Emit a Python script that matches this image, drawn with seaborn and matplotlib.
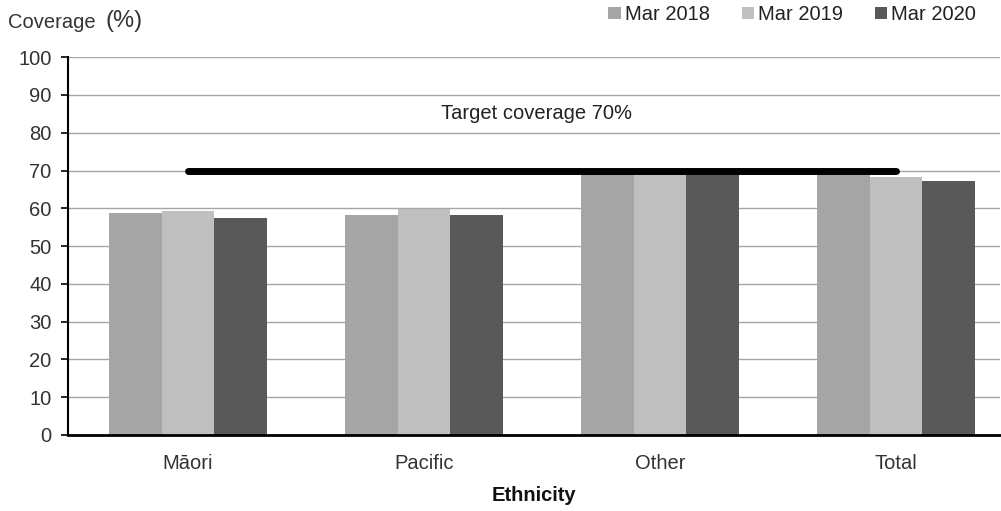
import pandas as pd
import seaborn as sns
import matplotlib.pyplot as plt

ethnicity = ['Māori', 'Pacific', 'Other', 'Total']
periods = ['Mar 2018', 'Mar 2019', 'Mar 2020']
mar_2018 = [58.8, 58.1, 70.2, 68.8]
mar_2019 = [59.2, 59.8, 70.2, 68.3]
mar_2020 = [57.5, 58.2, 70.2, 67.3]
target = 70

df = pd.DataFrame({
    'Ethnicity': ethnicity * 3,
    'Period': [p for p in periods for _ in ethnicity],
    'Coverage': mar_2018 + mar_2019 + mar_2020,
})

sns.set_style('white')
plt.rcParams['font.family'] = ['Liberation Sans', 'DejaVu Sans']

fig = plt.figure(figsize=(10.01, 5.11), dpi=100)
ax = fig.add_axes([0.068, 0.149, 0.931, 0.739])

palette = ['#A5A5A5', '#BFBFBF', '#595959']
sns.barplot(data=df, x='Ethnicity', y='Coverage', hue='Period', order=ethnicity,
            hue_order=periods, palette=palette, width=0.67, saturation=1,
            linewidth=0, ax=ax, zorder=2)

ax.set_ylim(0, 100)
ax.set_xlim(-0.508, 3.44)
ax.set_yticks(range(0, 101, 10))
ax.yaxis.grid(True, color='#A6A6A6', linewidth=1)
ax.set_axisbelow(True)
for s in ['top', 'right']:
    ax.spines[s].set_visible(False)
ax.spines['left'].set_color('black')
ax.spines['left'].set_linewidth(1.5)
ax.spines['bottom'].set_color('black')
ax.spines['bottom'].set_linewidth(2)
ax.tick_params(axis='y', which='both', left=True, length=5, width=1.2, color='black',
               labelsize=14.5, labelcolor='#333333', pad=7)
ax.tick_params(axis='x', bottom=False, labelsize=14.5, labelcolor='#333333', pad=10)

ax.plot([0, 3], [target, target], color='black', linewidth=5, solid_capstyle='round', zorder=3)
ax.text(1.475, 85, 'Target coverage 70%', ha='center', va='center', fontsize=14.5, color='#222222')

ax.set_ylabel('')
ax.set_xlabel('Ethnicity', fontsize=14.5, fontweight='bold', labelpad=10, color='#111111')
fig.text(0.008, 0.955, 'Coverage', fontsize=14.5, color='#333333', va='center')
fig.text(0.105, 0.958, '(%)', fontsize=17, color='#333333', va='center')

leg = ax.legend(loc='center right', bbox_to_anchor=(0.983, 1.113), ncol=3, frameon=False,
                fontsize=14.5, handlelength=0.6, handleheight=0.6, handletextpad=0.2,
                columnspacing=1.6, borderaxespad=0)
for t in leg.get_texts():
    t.set_color('#222222')

fig.savefig('out.png', dpi=100)
